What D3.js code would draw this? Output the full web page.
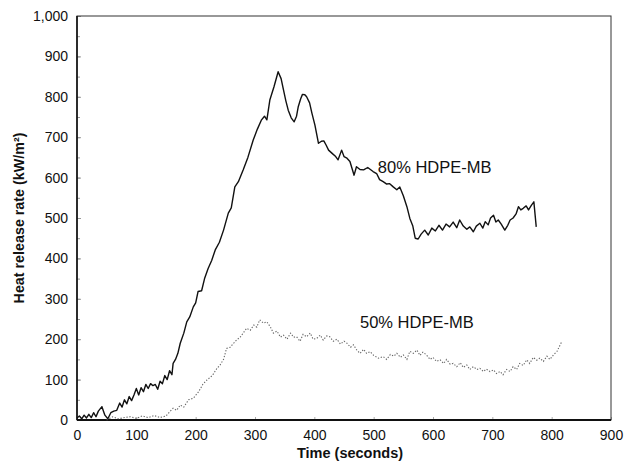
<!DOCTYPE html>
<html>
<head>
<meta charset="utf-8">
<script src="https://cdn.jsdelivr.net/npm/d3@7"></script>
<style>
  body { margin: 0; background: #fff; }
  text { font-family: "Liberation Sans", Arial, sans-serif; fill: #111; }
</style>
</head>
<body>
<div id="chart"></div>
<script>
// values
var time80 = [0,4,8,12,16,20,24,28,32,36,42,47,52,57,62,67,72,76,80,84,88,92,96,100,104,108,112,116,120,124,128,132,136,140,144,148,152,156,160,162,166,170,174,180,185,190,196,200,204,210,215,221,227,233,240,247,255,260,266,272,280,288,297,304,311,316,320,325,332,339,344,348,352,356,361,366,370,373,377,380,384,387,392,396,401,407,412,416,420,424,430,436,440,446,450,455,460,467,471,477,483,490,499,505,510,516,522,527,533,539,544,550,556,561,566,570,575,580,586,592,598,604,610,616,622,628,634,640,645,651,657,662,668,673,679,684,688,693,697,702,706,710,715,721,726,730,735,740,744,748,752,757,761,766,770,774];
var hrr80 = [5,10,3,12,5,14,6,18,8,22,33,12,3,18,22,24,42,32,50,40,58,48,62,78,62,80,70,88,78,90,85,88,76,96,90,110,100,122,112,140,150,165,190,215,243,255,280,290,318,320,350,375,395,421,440,470,512,525,577,590,619,650,693,720,743,752,743,792,825,862,845,817,790,767,748,738,752,776,795,806,805,800,785,759,730,685,690,691,680,668,660,652,644,668,652,648,640,606,627,620,619,625,615,610,595,590,584,585,577,570,577,555,528,499,480,450,448,460,470,458,475,468,482,470,485,478,490,476,495,480,472,478,466,480,487,475,491,483,500,507,490,495,485,470,482,495,500,510,528,520,524,530,520,532,540,478];

var time50 = [50,60,70,80,90,100,110,120,130,140,150,156,162,168,174,180,188,196,205,212,219,228,236,241,247,252,258,264,269,275,280,286,292,298,303,308,314,320,326,331,337,343,348,354,360,365,370,376,381,387,393,398,404,410,415,421,426,432,438,444,450,455,461,466,472,477,483,488,494,500,508,516,522,528,534,539,545,550,556,561,567,573,578,583,589,595,600,606,612,618,623,629,634,640,646,651,657,662,668,674,679,685,690,696,702,707,713,718,724,730,735,741,746,752,758,763,769,775,780,786,792,797,803,809,813,817];
var hrr50 = [0,8,3,6,8,4,10,6,11,6,10,20,29,24,37,32,50,54,70,88,99,110,128,136,150,177,180,190,198,205,215,227,222,235,230,248,240,243,230,215,220,205,210,200,215,205,206,195,212,206,215,200,202,210,198,208,206,195,200,188,195,190,180,186,172,165,175,165,169,160,153,157,150,162,158,165,155,161,150,170,165,173,160,168,161,150,155,145,149,140,150,138,140,132,142,130,136,125,132,125,128,120,126,120,124,115,120,112,125,120,132,125,140,135,149,140,155,148,153,145,158,150,161,170,182,194];

var xTicks = [0,100,200,300,400,500,600,700,800,900];
var yTicks = [0,100,200,300,400,500,600,700,800,900,1000];
var yMinor = d3.range(0, 1001, 50);

var width = 636, height = 461;
var plotLeft = 77, plotRight = 611, plotTop = 16, plotBottom = 420;
var font = '"Liberation Sans", Arial, sans-serif';

var svg = d3.select('#chart').append('svg')
  .attr('width', width)
  .attr('height', height);

var x = d3.scaleLinear().domain([0, 900]).range([plotLeft, plotRight]);
var y = d3.scaleLinear().domain([0, 1000]).range([plotBottom, plotTop]);

// minor ticks on the left, pointing inward
svg.append('g')
  .attr('transform', 'translate(' + plotLeft + ',0)')
  .call(d3.axisLeft(y).tickValues(yMinor).tickSize(-3).tickFormat(''))
  .call(function(g) { g.select('.domain').remove(); g.selectAll('line').attr('stroke', '#999'); });

var yAxis = svg.append('g')
  .attr('transform', 'translate(' + plotLeft + ',0)')
  .call(d3.axisLeft(y).tickValues(yTicks).tickSize(-4).tickPadding(9)
    .tickFormat(d3.format(',')));
yAxis.select('.domain').remove();
yAxis.selectAll('line').attr('stroke', '#999');
yAxis.selectAll('text').attr('font-size', 14).style('font-family', font).attr('fill', '#111');

var xAxis = svg.append('g')
  .attr('transform', 'translate(0,' + plotBottom + ')')
  .call(d3.axisBottom(x).tickValues(xTicks).tickSize(-3).tickPadding(10));
xAxis.select('.domain').remove();
xAxis.selectAll('line').attr('stroke', '#aaa');
xAxis.selectAll('text').attr('font-size', 14).style('font-family', font).attr('fill', '#111');

// frame
svg.append('rect')
  .attr('x', plotLeft).attr('y', plotTop)
  .attr('width', plotRight - plotLeft).attr('height', plotBottom - plotTop)
  .attr('fill', 'none').attr('stroke', '#333').attr('stroke-width', 1);
svg.append('line')
  .attr('x1', plotLeft).attr('x2', plotLeft).attr('y1', plotTop).attr('y2', plotBottom)
  .attr('stroke', '#111').attr('stroke-width', 1.6);
svg.append('line')
  .attr('x1', plotLeft).attr('x2', plotRight).attr('y1', plotBottom).attr('y2', plotBottom)
  .attr('stroke', '#111').attr('stroke-width', 2);

var line = d3.line()
  .x(function(d) { return x(d[0]); })
  .y(function(d) { return y(d[1]); });

svg.append('path')
  .datum(d3.zip(time50, hrr50))
  .attr('d', line)
  .attr('fill', 'none')
  .attr('stroke', '#666')
  .attr('stroke-width', 1.1)
  .attr('stroke-dasharray', '1.3,1.7');

svg.append('path')
  .datum(d3.zip(time80, hrr80))
  .attr('d', line)
  .attr('fill', 'none')
  .attr('stroke', '#111')
  .attr('stroke-width', 1.4)
  .attr('stroke-linejoin', 'round');

// series labels
svg.append('text')
  .attr('x', x(507)).attr('y', y(612))
  .attr('font-size', 16.5)
  .text('80% HDPE-MB');
svg.append('text')
  .attr('x', x(477)).attr('y', y(228))
  .attr('font-size', 16.5)
  .text('50% HDPE-MB');

// axis titles
svg.append('text')
  .attr('x', 350).attr('y', 458)
  .attr('text-anchor', 'middle')
  .attr('font-size', 14.5)
  .attr('font-weight', 'bold')
  .text('Time (seconds)');
svg.append('text')
  .attr('transform', 'translate(24,' + ((plotTop + plotBottom) / 2) + ') rotate(-90)')
  .attr('text-anchor', 'middle')
  .attr('font-size', 14.3)
  .attr('font-weight', 'bold')
  .text('Heat release rate (kW/m²)');
</script>
</body>
</html>
